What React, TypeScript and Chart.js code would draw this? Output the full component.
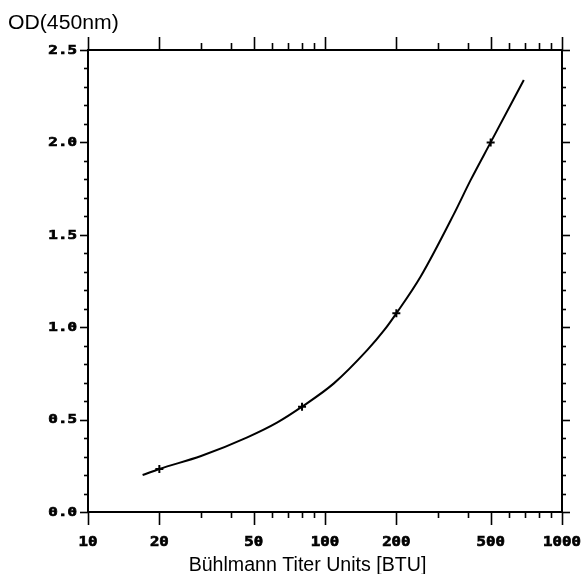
import React, { useEffect, useRef } from "react";
import { Chart, registerables } from "chart.js";

Chart.register(...registerables);

// Fitted standard curve (BTU vs OD)
const curveX = [17, 20, 30, 47, 63, 80, 109, 151, 178, 200, 253, 351, 412, 500, 690];
const curveY = [0.2, 0.233, 0.303, 0.404, 0.485, 0.57, 0.696, 0.877, 0.985, 1.075, 1.273, 1.616, 1.797, 2.0, 2.338];

// Measured standards
const standardX = [20, 80, 200, 500];
const standardY = [0.233, 0.57, 1.075, 2.0];

// Axis ticks
const xMajorTicks = [10, 20, 50, 100, 200, 500, 1000];
const xTickLabels = ["10", "20", "50", "100", "200", "500", "1000"];
const xMinorTicks = [30, 40, 60, 70, 80, 90, 300, 400, 600, 700, 800, 900];
const yMajorTicks = [0, 0.5, 1.0, 1.5, 2.0, 2.5];
const yTickLabels = ["0.0", "0.5", "1.0", "1.5", "2.0", "2.5"];
const yMinorTicks = [0.1, 0.2, 0.3, 0.4, 0.6, 0.7, 0.8, 0.9, 1.1, 1.2, 1.3, 1.4, 1.6, 1.7, 1.8, 1.9, 2.1, 2.2, 2.3, 2.4];

const yTitle = "OD(450nm)";
const xTitle = "Bühlmann Titer Units [BTU]";

const framePlugin = {
  id: "framePlugin",
  afterDatasetsDraw(chart: any) {
    const { ctx, chartArea } = chart;
    const xs = chart.scales.x;
    const ys = chart.scales.y;
    const { left, right, top, bottom } = chartArea;
    ctx.save();
    ctx.strokeStyle = "#000";
    ctx.fillStyle = "#000";
    ctx.lineWidth = 2;
    ctx.strokeRect(left, top, right - left, bottom - top);

    ctx.lineWidth = 1.6;
    const line = (x1: number, y1: number, x2: number, y2: number) => {
      ctx.beginPath();
      ctx.moveTo(x1, y1);
      ctx.lineTo(x2, y2);
      ctx.stroke();
    };
    // x ticks
    xMajorTicks.forEach((v) => {
      const px = Math.round(xs.getPixelForValue(v)) + 0.5;
      line(px, bottom, px, bottom + 13);
      line(px, top, px, top - 13);
    });
    xMinorTicks.forEach((v) => {
      const px = Math.round(xs.getPixelForValue(v)) + 0.5;
      line(px, bottom, px, bottom + 6);
      line(px, top, px, top - 7);
    });
    // y ticks
    yMajorTicks.forEach((v) => {
      const py = Math.round(ys.getPixelForValue(v)) + 0.5;
      line(left, py, left - 8, py);
      line(right, py, right + 8, py);
    });
    yMinorTicks.forEach((v) => {
      const py = Math.round(ys.getPixelForValue(v)) + 0.5;
      line(left, py, left - 4, py);
      line(right, py, right + 4, py);
    });

    // tick labels (heavy monospace)
    ctx.lineWidth = 0.7;
    ctx.font = 'bold 12.5px "DejaVu Sans Mono"';
    ctx.textBaseline = "middle";
    ctx.textAlign = "right";
    yMajorTicks.forEach((v, i) => {
      const py = ys.getPixelForValue(v);
      ctx.save();
      ctx.translate(left - 11, py + 0.5);
      ctx.scale(1.27, 1);
      ctx.fillText(yTickLabels[i], 0, 0);
      ctx.strokeText(yTickLabels[i], 0, 0);
      ctx.restore();
    });
    ctx.font = 'bold 14px "DejaVu Sans Mono"';
    ctx.textAlign = "center";
    xMajorTicks.forEach((v, i) => {
      const px = xs.getPixelForValue(v);
      ctx.save();
      ctx.translate(px, bottom + 30);
      ctx.scale(1.12, 1);
      ctx.fillText(xTickLabels[i], 0, 0);
      ctx.strokeText(xTickLabels[i], 0, 0);
      ctx.restore();
    });

    // titles
    ctx.font = '20px "Liberation Sans", Arial, sans-serif';
    ctx.textBaseline = "alphabetic";
    ctx.textAlign = "left";
    ctx.save();
    ctx.translate(8, 29);
    ctx.scale(1.06, 1);
    ctx.fillText(yTitle, 0, 0);
    ctx.restore();
    ctx.font = '19.6px "Liberation Sans", Arial, sans-serif';
    ctx.textAlign = "center";
    ctx.fillText(xTitle, 307.5, 571);
    ctx.restore();
  },
};

export default function App() {
  const ref = useRef<HTMLCanvasElement | null>(null);
  useEffect(() => {
    if (!ref.current) return;
    const chart = new Chart(ref.current, {
      type: "line",
      data: {
        datasets: [
          {
            data: curveX.map((x, i) => ({ x, y: curveY[i] })),
            borderColor: "#000",
            borderWidth: 2,
            pointRadius: 0,
            cubicInterpolationMode: "monotone",
            fill: false,
          },
          {
            data: standardX.map((x, i) => ({ x, y: standardY[i] })),
            showLine: false,
            pointStyle: "cross",
            pointRadius: 4,
            borderColor: "#000",
            backgroundColor: "#000",
            pointBorderWidth: 2,
          },
        ],
      },
      options: {
        responsive: false,
        animation: false,
        events: [],
        layout: { padding: { left: 88, right: 20, top: 50, bottom: 62 } },
        plugins: {
          legend: { display: false },
          tooltip: { enabled: false },
          title: { display: false },
        },
        scales: {
          x: { type: "logarithmic", min: 10, max: 1000, display: false },
          y: { type: "linear", min: 0, max: 2.5, display: false },
        },
      },
      plugins: [framePlugin],
    });
    return () => chart.destroy();
  }, []);
  return (
    <div style={{ position: "absolute", left: 0, top: 0, width: 582, height: 574, background: "#fff" }}>
      <canvas ref={ref} width={582} height={574} style={{ display: "block" }} />
    </div>
  );
}
